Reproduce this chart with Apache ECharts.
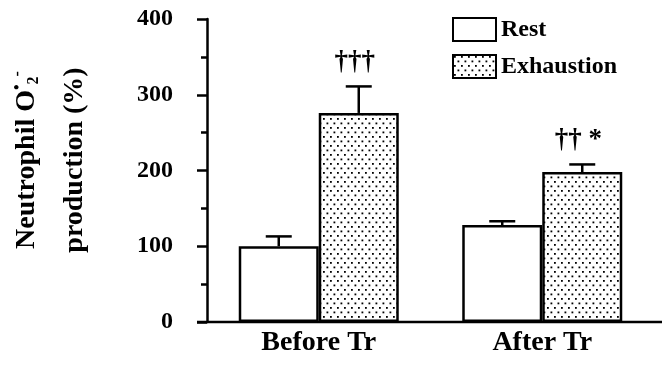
<!DOCTYPE html>
<html>
<head>
<meta charset="utf-8">
<script src="https://cdn.jsdelivr.net/npm/echarts@6/dist/echarts.min.js"></script>
<style>
	html, body { margin: 0; padding: 0; background: #fff; }
	#chart { width: 664px; height: 369px; }
</style>
</head>
<body>
<div id="chart"></div>
<script>
// data
var categories = ["Before Tr", "After Tr"];
var restValues = [100, 128];
var restErrTop = [113, 133];
var exhValues = [276, 198];
var exhErrTop = [311, 208];
var exhNotes = ["\u2020\u2020\u2020", "\u2020\u2020 *"];
var yTicks = [0, 100, 200, 300, 400];

var FONT = "Liberation Serif";
var BAR_W = 80;

/*
 * stippled fill for the Exhaustion bars
 */
function makeDots() {
	var c = document.createElement("canvas");
	c.width = 7;
	c.height = 9;
	var ctx = c.getContext("2d");
	ctx.fillStyle = "#fff";
	ctx.fillRect(0, 0, 7, 9);
	ctx.fillStyle = "#000";
	ctx.fillRect(1, 1, 1.8, 1.8);
	ctx.fillRect(4.5, 5.5, 1.8, 1.8);
	return c;
}
var dotFill = { image: makeDots(), repeat: "repeat" };

// error bar rows: [cat, value, top, side, note]
var errRows = [];
categories.forEach(function (c, i) {
	errRows.push([i, restValues[i], restErrTop[i], -1, ""]);
	errRows.push([i, exhValues[i], exhErrTop[i], 1, exhNotes[i]]);
});

function renderErr(params, api) {
	var cat = api.value(0);
	var side = api.value(3);
	var note = errRows[params.dataIndex][4];
	var p0 = api.coord([cat, api.value(1)]);
	var p1 = api.coord([cat, api.value(2)]);
	var x = p0[0] + side * BAR_W / 2;
	var st = { stroke: "#000", lineWidth: 2.5 };
	var kids = [
		{ type: "line", shape: { x1: x, y1: p0[1], x2: x, y2: p1[1] }, style: st },
		{ type: "line", shape: { x1: x - 13, y1: p1[1], x2: x + 13, y2: p1[1] }, style: st }
	];
	if (note) {
		kids.push({
			type: "text",
			x: x - 4,
			y: p1[1] - 11,
			style: {
				text: note,
				fill: "#000",
				font: "bold 27px '" + FONT + "'",
				align: "center",
				verticalAlign: "bottom"
			}
		});
	}
	return { type: "group", children: kids };
}

var voChart = echarts.init(document.getElementById("chart"));

var voOption = {
	animation: false,
	backgroundColor: "#fff",
	grid: { left: 207, right: 10, top: 19, bottom: 47 },
	legend: {
		data: ["Rest", "Exhaustion"],
		orient: "vertical",
		left: 447,
		top: 12,
		itemWidth: 43,
		itemHeight: 23,
		itemGap: 12,
		icon: "rect",
		textStyle: { fontFamily: FONT, fontWeight: "bold", fontSize: 24, color: "#000" }
	},
	xAxis: {
		type: "category",
		data: categories,
		axisLine: { show: false },
		axisTick: { show: false },
		axisLabel: { fontFamily: FONT, fontWeight: "bold", fontSize: 28, color: "#000", margin: 7 }
	},
	yAxis: {
		type: "value",
		min: yTicks[0],
		max: yTicks[yTicks.length - 1],
		interval: 100,
		splitLine: { show: false },
		axisLine: { show: true, lineStyle: { color: "#000", width: 2.5 } },
		axisTick: { show: true, length: 10, lineStyle: { color: "#000", width: 2.5 } },
		minorTick: { show: true, splitNumber: 2, length: 6, lineStyle: { color: "#000", width: 2.5 } },
		axisLabel: { fontFamily: FONT, fontWeight: "bold", fontSize: 24, color: "#000", margin: 34 }
	},
	series: [
		{
			name: "Rest",
			type: "bar",
			barWidth: BAR_W,
			barGap: "0%",
			itemStyle: { color: "#fff", borderColor: "#000", borderWidth: 2.5 },
			data: restValues
		},
		{
			name: "Exhaustion",
			type: "bar",
			barWidth: BAR_W,
			barGap: "0%",
			itemStyle: { color: dotFill, borderColor: "#000", borderWidth: 2.5 },
			data: exhValues
		},
		{
			type: "custom",
			renderItem: renderErr,
			encode: { x: 0, y: [1, 2] },
			data: errRows.map(function (r) { return r.slice(0, 4); }),
			z: 5
		}
	]
};

voChart.setOption(voOption);

// baseline runs a little past the plot on both sides, y-axis title is two rotated lines
var y0 = voChart.convertToPixel({ gridIndex: 0 }, [0, 0])[1];
var titleBase = { fontFamily: FONT, fontWeight: "bold", fontSize: 28, lineHeight: 48, fill: "#000" };
voChart.setOption({
	graphic: [
		{
			type: "line",
			shape: { x1: 197, y1: y0, x2: 662, y2: y0 },
			style: { stroke: "#000", lineWidth: 2.5 },
			z: 10
		},
		{
			type: "text",
			x: 51,
			y: 160,
			rotation: Math.PI / 2,
			style: {
				text: "{t|Neutrophil O}{sup|\u2022}{sub|2}{sup|-}\n{t|production (%)}",
				fill: "#000",
				font: "bold 28px '" + FONT + "'",
				lineHeight: 48,
				align: "center",
				verticalAlign: "middle",
				rich: {
					t: titleBase,
					sup: { fontFamily: FONT, fontWeight: "bold", fontSize: 16, lineHeight: 18, padding: [0, 0, 18, 0], fill: "#000" },
					sub: { fontFamily: FONT, fontWeight: "bold", fontSize: 16, lineHeight: 18, padding: [14, 0, 0, 0], fill: "#000" }
				}
			}
		}
	]
});

window.addEventListener("resize", function () {
	voChart.resize();
});
</script>
</body>
</html>
